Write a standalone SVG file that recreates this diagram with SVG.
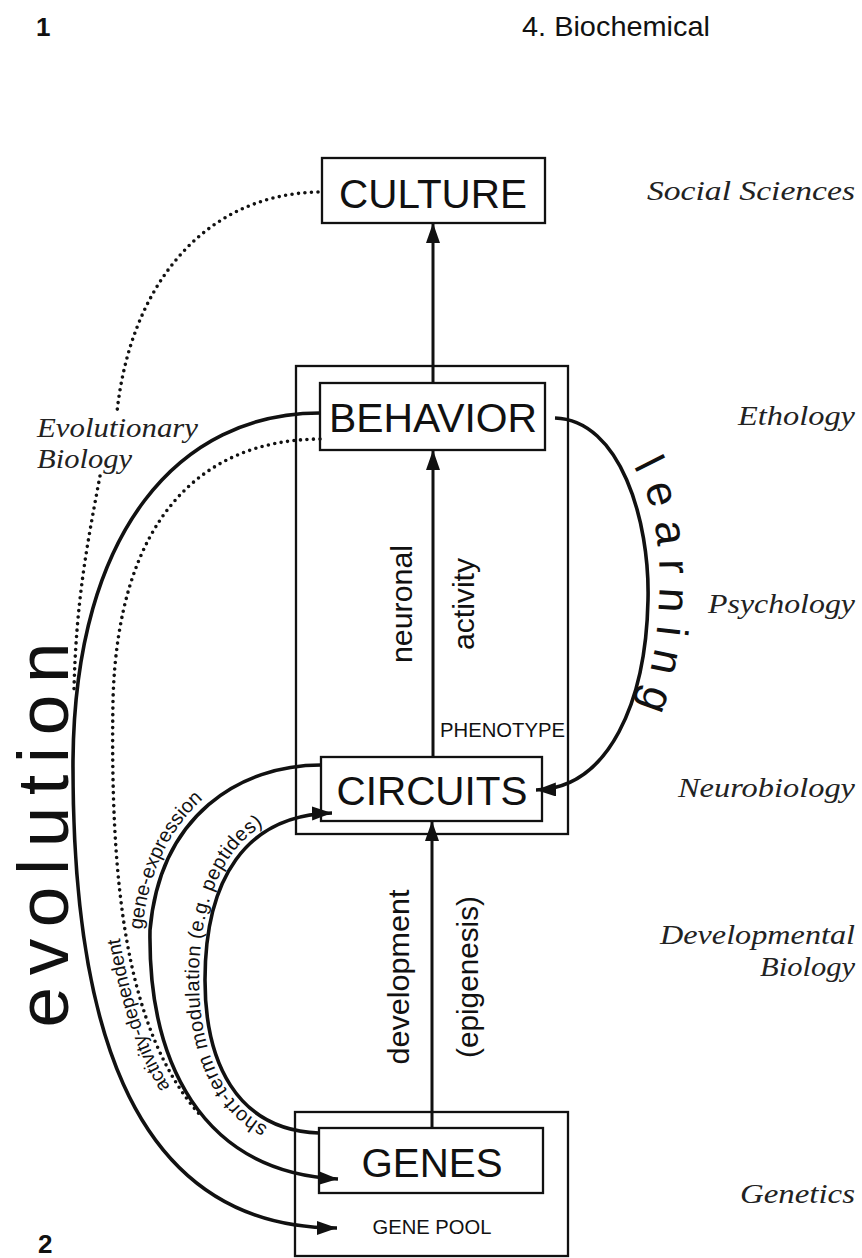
<svg xmlns="http://www.w3.org/2000/svg" width="862" height="1258" viewBox="0 0 862 1258">
<defs>
<style>
.box{fill:none;stroke:#111;stroke-width:2.3}
.sans{font-family:"Liberation Sans",Arial,sans-serif;fill:#111}
.big{font-size:40px;text-anchor:middle}
.rot{font-size:29px;text-anchor:middle}
.small{font-size:20px}
.disc{font-family:"Liberation Serif","Times New Roman",serif;font-style:italic;font-size:28px;fill:#222}
.solid{fill:none;stroke:#111;stroke-width:3.6}
.dot{fill:none;stroke:#111;stroke-width:3.6;stroke-linecap:round;stroke-dasharray:0 6.5}
.vert{fill:none;stroke:#111;stroke-width:3}
</style>
<marker id="ah" markerUnits="userSpaceOnUse" markerWidth="22" markerHeight="16" refX="20" refY="7" orient="auto">
<path d="M0,0 L20,7 L0,14 z" fill="#111"/>
</marker>
<path id="pGene" d="M142 934 C152 810 237 757 317 757"/>
<path id="pShort" d="M318 1139 C233 1136 199 1063 199 980 C199 876 242 807 332 807"/>
<path id="pAct" d="M195 1121 C118 1034 104 880 107 700"/>
<path id="pLearn" d="M606 436 C652 470 662 540 659 600 C656 665 645 705 615 755"/>
</defs>
<rect width="862" height="1258" fill="#fff"/>

<g id="page-labels">
<text class="sans" x="36" y="36" font-size="26" font-weight="bold">1</text>
<text class="sans" x="38" y="1253" font-size="26" font-weight="bold">2</text>
<text class="sans" x="522" y="36" font-size="28" textLength="188" lengthAdjust="spacingAndGlyphs">4. Biochemical</text>
</g>

<g id="disciplines">
<text class="disc" x="855" y="200" text-anchor="end" textLength="208" lengthAdjust="spacingAndGlyphs">Social Sciences</text>
<text class="disc" x="855" y="425" text-anchor="end" textLength="117" lengthAdjust="spacingAndGlyphs">Ethology</text>
<text class="disc" x="855" y="613" text-anchor="end" textLength="147" lengthAdjust="spacingAndGlyphs">Psychology</text>
<text class="disc" x="855" y="797" text-anchor="end" textLength="177" lengthAdjust="spacingAndGlyphs">Neurobiology</text>
<text class="disc" x="855" y="944" text-anchor="end" textLength="195" lengthAdjust="spacingAndGlyphs">Developmental</text>
<text class="disc" x="855" y="976" text-anchor="end" textLength="95" lengthAdjust="spacingAndGlyphs">Biology</text>
<text class="disc" x="855" y="1203" text-anchor="end" textLength="115" lengthAdjust="spacingAndGlyphs">Genetics</text>
<text class="disc" x="37" y="437" textLength="161" lengthAdjust="spacingAndGlyphs">Evolutionary</text>
<text class="disc" x="37" y="468" textLength="95" lengthAdjust="spacingAndGlyphs">Biology</text>
</g>

<g id="culture">
<rect class="box" x="322" y="158" width="223" height="65"/>
<text class="sans big" x="433" y="208" textLength="188" lengthAdjust="spacingAndGlyphs">CULTURE</text>
</g>

<g id="phenotype">
<rect class="box" x="296" y="366" width="272" height="468"/>
<text class="sans" x="440" y="737" font-size="20" textLength="125" lengthAdjust="spacingAndGlyphs">PHENOTYPE</text>
</g>

<g id="behavior">
<rect class="box" x="320" y="383" width="225" height="67"/>
<text class="sans big" x="433" y="432" textLength="208" lengthAdjust="spacingAndGlyphs">BEHAVIOR</text>
</g>

<g id="circuits">
<rect class="box" x="321" y="757" width="221" height="64"/>
<text class="sans big" x="432" y="805" textLength="191" lengthAdjust="spacingAndGlyphs">CIRCUITS</text>
</g>

<g id="gene-pool">
<rect class="box" x="295" y="1112" width="273" height="144"/>
<text class="sans" x="432" y="1234" font-size="20" text-anchor="middle" textLength="119" lengthAdjust="spacingAndGlyphs">GENE POOL</text>
</g>

<g id="genes">
<rect class="box" x="319" y="1128" width="224" height="65"/>
<text class="sans big" x="432" y="1177" textLength="141" lengthAdjust="spacingAndGlyphs">GENES</text>
</g>

<g id="connectors">
<path class="vert" d="M433 383 L433 223" marker-end="url(#ah)"/>
<path class="vert" d="M433 757 L433 450" marker-end="url(#ah)"/>
<path class="vert" d="M432 1128 L432 821" marker-end="url(#ah)"/>
<path class="dot" d="M318 192 C200 195 130 290 117 412"/>
<path class="dot" d="M100 476 C88 540 76 600 74 690"/>
<path class="solid" d="M320 413 C180 413 75 530 73 760 C72 1000 120 1228 337 1228" marker-end="url(#ah)"/>
<path class="dot" d="M320 439 C200 440 118 520 113 700 C110 880 125 1030 200 1115"/>
<path class="solid" d="M321 765 C240 765 160 815 150 930 C148 1060 200 1172 338 1179" marker-end="url(#ah)"/>
<path class="solid" d="M319 1133 C235 1130 205 1060 205 980 C205 880 245 815 332 813" marker-end="url(#ah)"/>
<path class="solid" d="M555 418 C620 420 650 520 648 600 C646 700 610 788 536 790" marker-end="url(#ah)"/>
</g>

<g id="connector-labels">
<text class="sans rot" transform="translate(412,604) rotate(-90)" textLength="118" lengthAdjust="spacingAndGlyphs">neuronal</text>
<text class="sans rot" transform="translate(474,604) rotate(-90)" textLength="92" lengthAdjust="spacingAndGlyphs">activity</text>
<text class="sans rot" transform="translate(409,977) rotate(-90)" textLength="175" lengthAdjust="spacingAndGlyphs">development</text>
<text class="sans rot" transform="translate(478,977) rotate(-90)" textLength="162" lengthAdjust="spacingAndGlyphs">(epigenesis)</text>
<text class="sans" transform="translate(68,835) rotate(-90)" font-size="73" text-anchor="middle" textLength="385" lengthAdjust="spacing">evolution</text>
<text class="sans small"><textPath href="#pGene" startOffset="4">gene-expression</textPath></text>
<text class="sans small" letter-spacing="0.5"><textPath href="#pShort" startOffset="52">short-term modulation (e.g. peptides)</textPath></text>
<text class="sans" font-size="19.5"><textPath href="#pAct" startOffset="42">activity-dependent</textPath></text>
<text class="sans" font-size="44" letter-spacing="13"><textPath href="#pLearn" startOffset="50%" text-anchor="middle">learning</textPath></text>
</g>
</svg>
